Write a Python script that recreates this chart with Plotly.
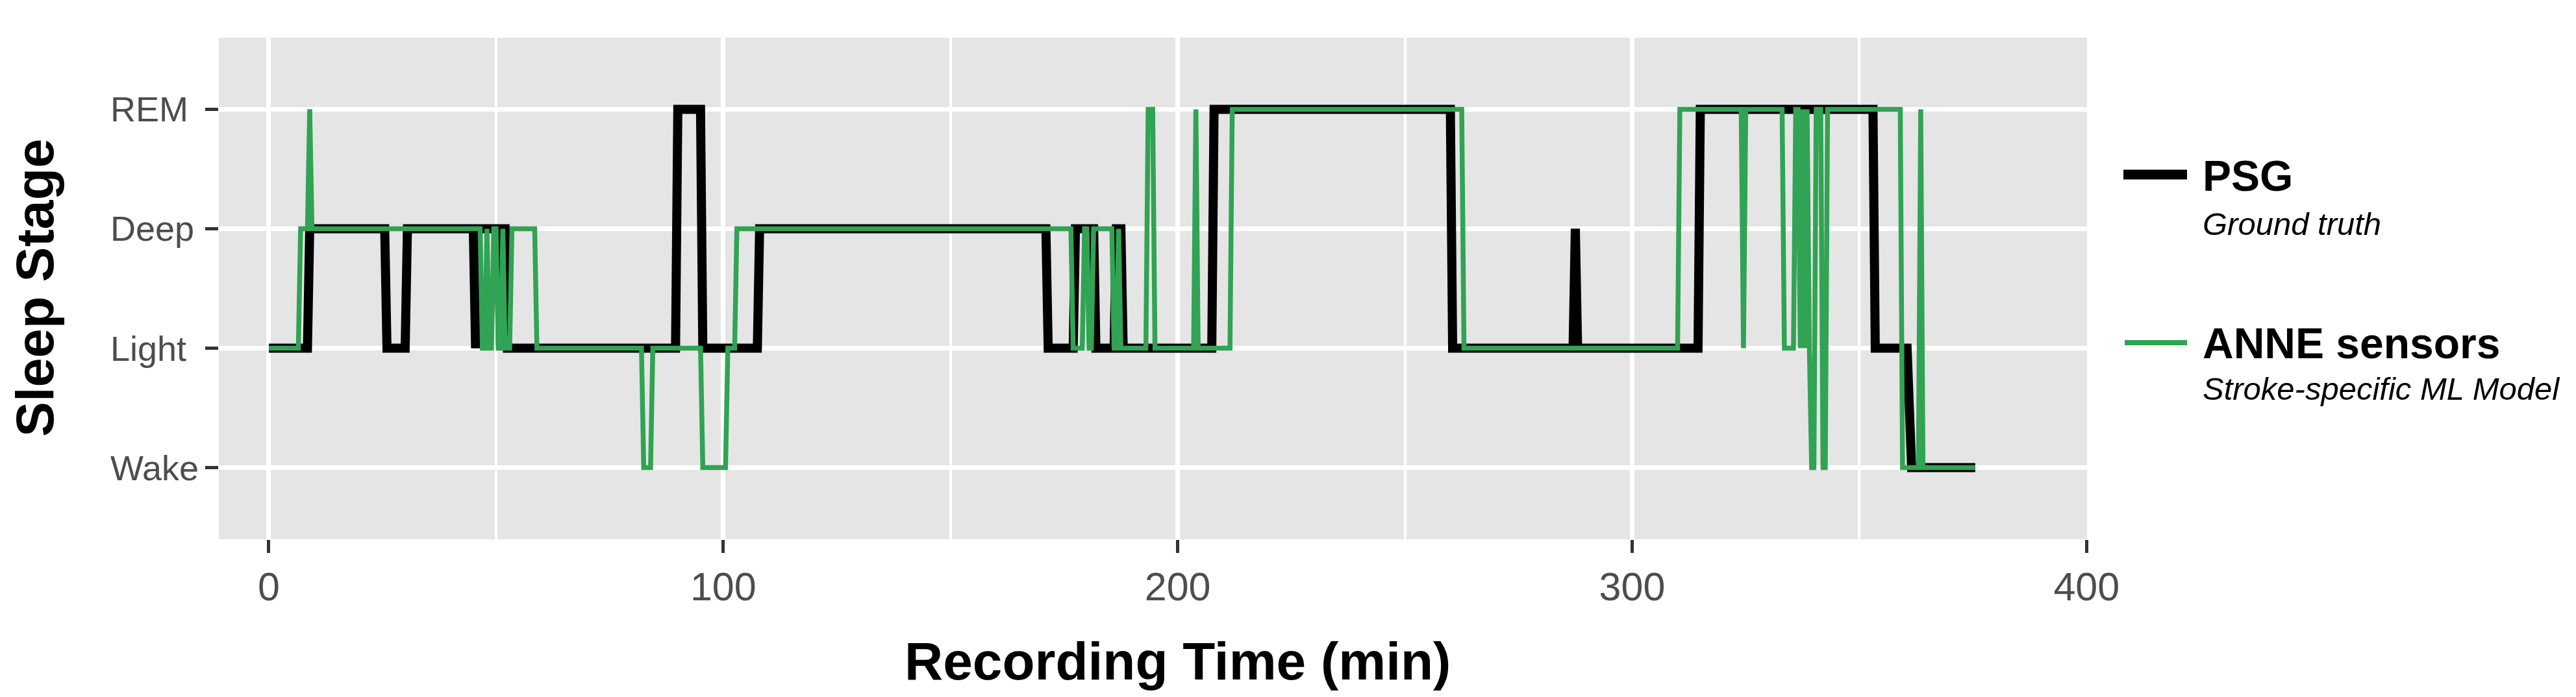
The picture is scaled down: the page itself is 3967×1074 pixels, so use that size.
import plotly.graph_objects as go

# ---------------- data ----------------
STAGE_NAMES = ["Wake", "Light", "Deep", "REM"]
STAGE_VALUES = [1, 2, 3, 4]
X_TICKS = [0, 100, 200, 300, 400]
X_MINOR = [50, 150, 250, 350]

# PSG (ground truth): runs of constant stage, start / end minute of each run
psg_stage = ["Light", "Deep", "Light", "Deep", "Light", "Deep", "Light", "Deep",
             "Light", "REM", "Light", "Deep", "Light", "Deep", "Light", "Deep",
             "Light", "REM", "Light", "Deep", "Light", "REM", "Light", "Wake"]
psg_start = [0, 9, 26, 30.5, 45.5, 46, 51, 51.5,
             52.5, 90, 95.5, 108, 171.5, 177.5, 182, 186.5,
             188, 208, 260.5, 287.5, 288, 315, 353.5, 361.5]
psg_end = [8.5, 25.5, 30, 45, 45.5, 50.5, 51, 52,
           89.5, 95, 107.5, 171, 177, 181.5, 186, 187.5,
           207.5, 260, 287, 287.5, 314.5, 353, 360.5, 375.5]

# ANNE sensors (stroke-specific ML model)
anne_stage = ["Light", "Deep", "REM", "Deep", "Light", "Deep", "Light", "Deep",
              "Light", "Deep", "Light", "Deep", "Light", "Wake", "Light", "Wake",
              "Light", "Deep", "Light", "Deep", "Light", "Deep", "Light", "Deep",
              "Light", "REM", "Light", "REM", "Light", "REM", "Light", "REM",
              "Light", "REM", "Light", "REM", "Light", "REM", "Light", "REM",
              "Light", "Wake", "REM", "Wake", "REM", "Wake", "REM", "Wake"]
anne_start = [0, 7, 9, 9.5, 47, 48, 48.5, 49.5,
              50.5, 51.5, 52, 53.5, 59, 82.5, 84.5, 95.5,
              101, 103, 177, 179.5, 180.5, 181.5, 186, 187,
              187.5, 193.5, 195, 204, 204.5, 212, 263, 310.5,
              324.5, 325, 333.5, 336, 337, 337.5, 338, 338.5,
              339, 339.5, 340.5, 342, 343, 359.5, 363.5, 364]
anne_end = [6.5, 8.5, 9, 46.5, 47.5, 48, 49, 50,
            51, 51.5, 53, 58.5, 82, 84, 95, 100.5,
            102.5, 176.5, 179, 180, 181, 185.5, 186.5, 187,
            193, 194.5, 203.5, 204, 211.5, 262.5, 310, 324,
            324.5, 333, 335.5, 336.5, 337, 337.5, 338, 338.5,
            339, 340, 341.5, 342.5, 359, 363, 363.5, 375.5]


def build(stages, starts, ends):
    xs, ys = [], []
    for s, a, b in zip(stages, starts, ends):
        v = STAGE_VALUES[STAGE_NAMES.index(s)]
        xs.append(a)
        ys.append(v)
        if b != a:
            xs.append(b)
            ys.append(v)
    return xs, ys


psg_x, psg_y = build(psg_stage, psg_start, psg_end)
anne_x, anne_y = build(anne_stage, anne_start, anne_end)

# ---------------- layout helpers ----------------
W, H = 3967, 1074
L, R, T, B = 329, 3206, 50, 823
FONT = "Liberation Sans, Arial, Helvetica, sans-serif"
GREEN = "#31A354"


def px(x):
    return (x - L) / (R - L)


def py(y):
    return (B - y) / (B - T)


fig = go.Figure()
fig.add_trace(go.Scatter(x=psg_x, y=psg_y, mode="lines", name="PSG",
                         line=dict(color="black", width=14), showlegend=False))
fig.add_trace(go.Scatter(x=anne_x, y=anne_y, mode="lines", name="ANNE sensors",
                         line=dict(color=GREEN, width=7.5), showlegend=False))

annotations = []
# y tick labels (left aligned as in the original)
for name, val in zip(STAGE_NAMES, STAGE_VALUES):
    annotations.append(dict(x=px(160), xref="paper", y=val, yref="y", text=name,
                            showarrow=False, xanchor="left", yanchor="middle",
                            font=dict(family=FONT, size=54, color="#4D4D4D")))
# axis titles
annotations.append(dict(x=px(46), xref="paper", y=py(436), yref="paper",
                        text="Sleep Stage", textangle=-90, showarrow=False,
                        xanchor="center", yanchor="middle",
                        font=dict(family=FONT, size=81, color="black", weight="bold")))
annotations.append(dict(x=200, xref="x", y=py(1011), yref="paper",
                        text="Recording Time (min)", showarrow=False,
                        xanchor="center", yanchor="middle",
                        font=dict(family=FONT, size=82, color="black", weight="bold")))
# legend
leg = [("PSG", "Ground truth", 263, 337),
       ("ANNE sensors", "Stroke-specific ML Model", 521, 591)]
for title, sub, yt, ys in leg:
    annotations.append(dict(x=px(3382), xref="paper", y=py(yt), yref="paper",
                            text=title, showarrow=False, xanchor="left", yanchor="middle",
                            font=dict(family=FONT, size=66, color="black", weight="bold")))
    annotations.append(dict(x=px(3382), xref="paper", y=py(ys), yref="paper",
                            text=sub, showarrow=False, xanchor="left", yanchor="middle",
                            font=dict(family=FONT, size=49, color="black", style="italic")))

shapes = [
    dict(type="line", xref="paper", yref="paper", x0=px(3262), x1=px(3360),
         y0=py(261), y1=py(261), line=dict(color="black", width=15)),
    dict(type="line", xref="paper", yref="paper", x0=px(3264), x1=px(3360),
         y0=py(520), y1=py(520), line=dict(color=GREEN, width=8)),
]

fig.update_layout(
    width=W, height=H,
    margin=dict(l=L, r=W - R, t=T, b=H - B, pad=0),
    paper_bgcolor="white",
    plot_bgcolor="#E5E5E5",
    font=dict(family=FONT),
    annotations=annotations,
    shapes=shapes,
    showlegend=False,
    xaxis=dict(range=[-11, 400.1], tickvals=X_TICKS, ticks="outside", ticklen=20,
               tickwidth=5, tickcolor="#333333",
               tickfont=dict(family=FONT, size=61, color="#4D4D4D"),
               showgrid=True, gridcolor="white", gridwidth=7,
               minor=dict(tickvals=X_MINOR, showgrid=True, gridcolor="white",
                          gridwidth=3.5, ticks=""),
               zeroline=False, showline=False),
    yaxis=dict(range=[0.4, 4.6], tickvals=STAGE_VALUES, showticklabels=False,
               ticks="outside", ticklen=20, tickwidth=5, tickcolor="#333333",
               showgrid=True, gridcolor="white", gridwidth=7,
               zeroline=False, showline=False),
)

fig.write_html("out.html")
